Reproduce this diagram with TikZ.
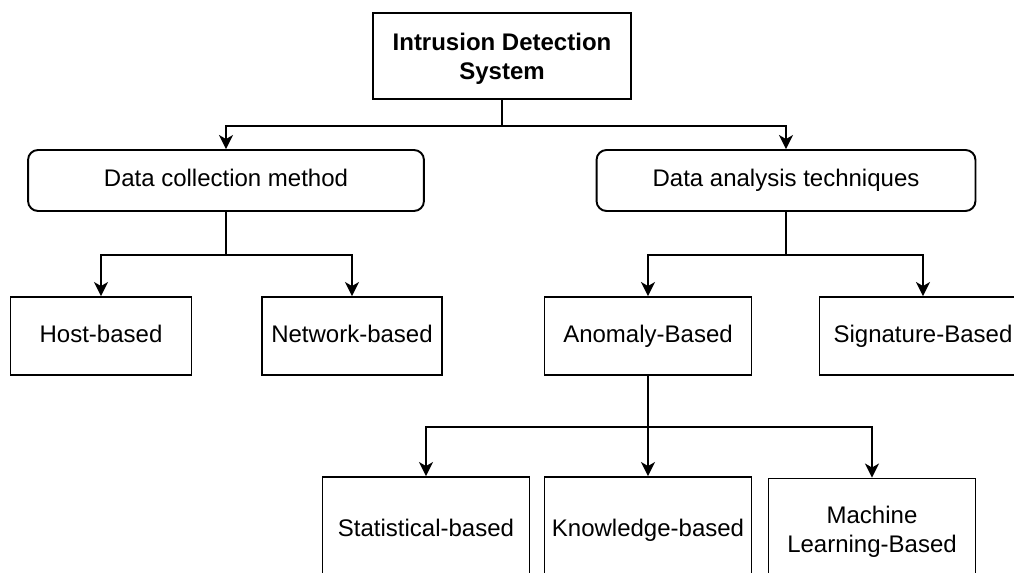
\documentclass[tikz,border=0pt]{standalone}
\usepackage{fontspec}
\setmainfont{Liberation Sans}
\usetikzlibrary{arrows.meta}

\begin{document}
\begin{tikzpicture}[
		x=0.02cm, y=-0.02cm,
		% Styles
		root/.style={rectangle, draw=black, line width=1.1pt, minimum width=5.16cm, minimum height=1.72cm, inner sep=0pt, text depth=0pt, align=center, font=\fontsize{13.66}{16.4}\selectfont\bfseries},
		group/.style={rectangle, rounded corners=0.2cm, draw=black, line width=1.1pt, minimum height=1.22cm, inner sep=0pt, text height=0.716em, text depth=0pt, font=\fontsize{13.66}{16.4}\selectfont},
		leaf/.style={rectangle, draw=black, line width=1.1pt, minimum height=1.56cm, inner sep=0pt, text height=0.716em, text depth=0pt, align=center, font=\fontsize{13.66}{16.4}\selectfont},
		method/.style={leaf, minimum width=4.14cm, minimum height=2.12cm},
		% Arrows
		link/.style={-{Stealth[length=0.28cm, width=0.28cm, inset=0.08cm]}, line width=1.1pt},
		]

		\useasboundingbox (0,0) rectangle (1014,573);

		% Root
		\node[root] (ids) at (502,56) {Intrusion Detection\\System};

		% Second level
		\node[group, minimum width=7.92cm] (collect) at (226,180.5) {Data collection method};
		\node[group, minimum width=7.58cm] (analysis) at (786,180.5) {Data analysis techniques};

		% Data collection
		\node[leaf, minimum width=3.62cm] (host) at (101,336) {Host-based};
		\node[leaf, minimum width=3.6cm] (network) at (352,336) {Network-based};

		% Data analysis
		\node[leaf, minimum width=4.14cm] (anomaly) at (648,336) {Anomaly-Based};
		\node[leaf, minimum width=4.14cm] (signature) at (923,336) {Signature-Based};

		% Anomaly methods
		\node[method] (statistical) at (426,530) {Statistical-based};
		\node[method] (knowledge) at (648,530) {Knowledge-based};
		\node[method, text height=, text depth=] (ml) at (872,531.5) {Machine\\Learning-Based};

		% Connections
		\draw[link] (ids.south) -- ++(0,26) -| (collect.north);
		\draw[link] (ids.south) -- ++(0,26) -| (analysis.north);

		\draw[link] (collect.south) -- ++(0,43) -| (host.north);
		\draw[link] (collect.south) -- ++(0,43) -| (network.north);

		\draw[link] (analysis.south) -- ++(0,43) -| (anomaly.north);
		\draw[link] (analysis.south) -- ++(0,43) -| (signature.north);

		\draw[link] (anomaly.south) -- ++(0,51) -| (statistical.north);
		\draw[link] (anomaly.south) -- (knowledge.north);
		\draw[link] (anomaly.south) -- ++(0,51) -| (ml.north);

\end{tikzpicture}
\end{document}
